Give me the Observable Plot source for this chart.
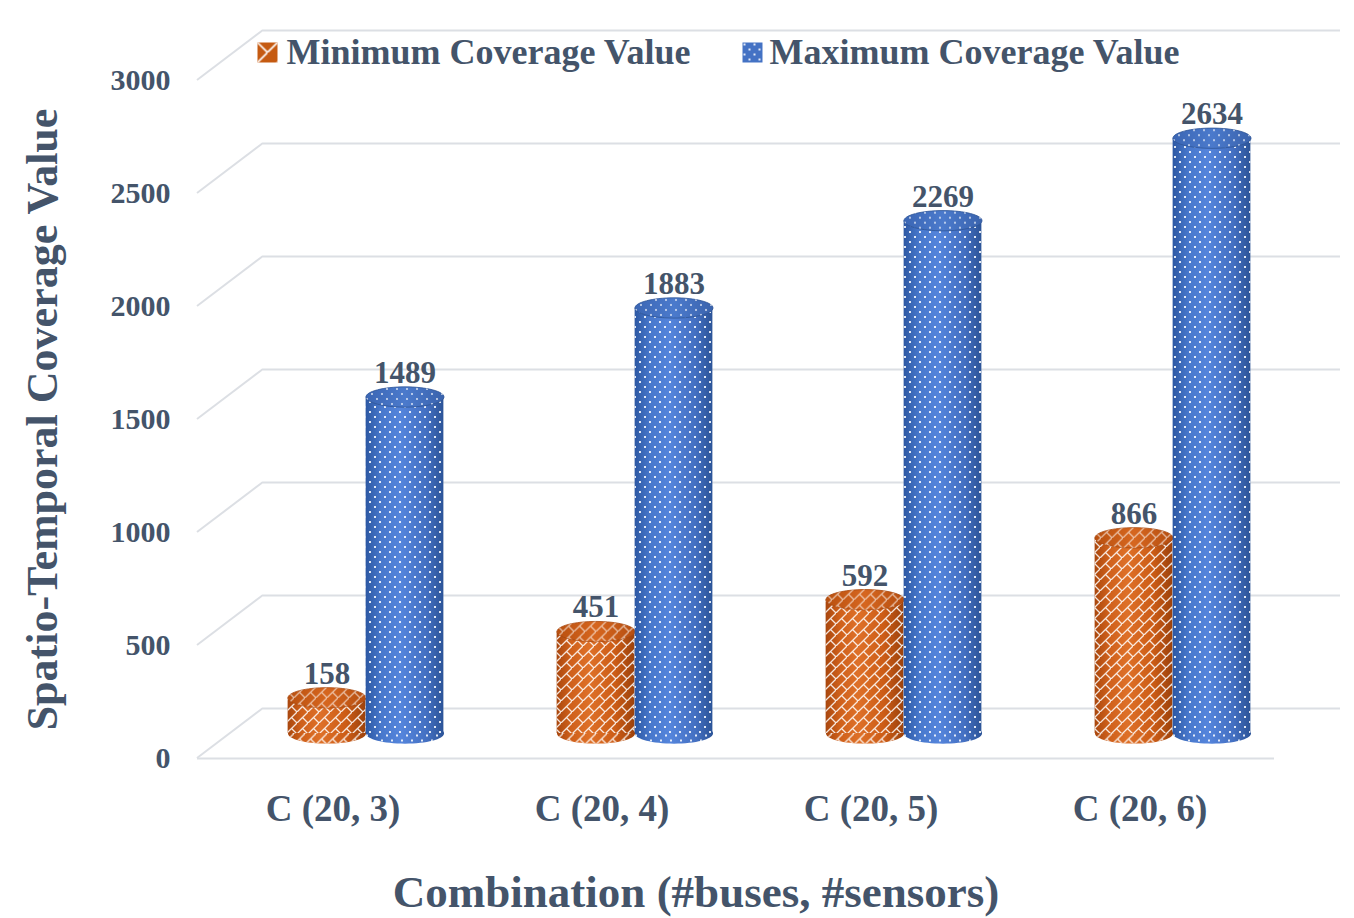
<!DOCTYPE html>
<html>
<head>
<meta charset="utf-8">
<script src="https://cdn.jsdelivr.net/npm/d3@7"></script>
<script src="https://cdn.jsdelivr.net/npm/@observablehq/plot@0.6"></script>
<style>
  html, body { margin: 0; padding: 0; background: #fff; }
  #chart svg { display: block; }
</style>
</head>
<body>
<div id="chart"></div>
<script>
// ---- data ----
const categories = ["C (20, 3)", "C (20, 4)", "C (20, 5)", "C (20, 6)"];
const minValues = [158, 451, 592, 866];
const maxValues = [1489, 1883, 2269, 2634];
const seriesNames = ["Minimum Coverage Value", "Maximum Coverage Value"];
const yTicks = [0, 500, 1000, 1500, 2000, 2500, 3000];
const xTitle = "Combination (#buses, #sensors)";
const yTitle = "Spatio-Temporal Coverage Value";

const data = categories.flatMap((c, i) => [
  {category: c, series: seriesNames[0], value: minValues[i]},
  {category: c, series: seriesNames[1], value: maxValues[i]}
]);

// ---- layout / style ----
const W = 1354, H = 918;
const ML = 197, MR = 80, MT = 80, MB = 160;
const DX = 66, DY = -50;           // depth offset front -> back wall
const MX = 33, MY = -25;           // depth offset front -> bars
const R = 39;                      // cylinder radius (px)
const RY = 0.26;                   // ellipse flattening
const bw = (W - ML - MR) / categories.length;
const TEXT = "#44546A";
const GRID = "#dcdfe4";

const ellipse = {
  draw(ctx, size) {
    const rx = Math.sqrt(size / Math.PI), ry = rx * RY, k = 0.5523;
    ctx.moveTo(-rx, 0);
    ctx.bezierCurveTo(-rx, -ry * k, -rx * k, -ry, 0, -ry);
    ctx.bezierCurveTo(rx * k, -ry, rx, -ry * k, rx, 0);
    ctx.bezierCurveTo(rx, ry * k, rx * k, ry, 0, ry);
    ctx.bezierCurveTo(-rx * k, ry, -rx, ry * k, -rx, 0);
    ctx.closePath();
  }
};
const square = {
  draw(ctx, size) {
    const r = Math.sqrt(size / Math.PI);
    ctx.moveTo(-r, -r); ctx.lineTo(r, -r); ctx.lineTo(r, r); ctx.lineTo(-r, r); ctx.closePath();
  }
};

const defsMark = () => {
  const defs = document.createElementNS("http://www.w3.org/2000/svg", "defs");
  defs.innerHTML = `
    <linearGradient id="bodyOrange" x1="0" x2="1" y1="0" y2="0">
      <stop offset="0" stop-color="#a9470e"/>
      <stop offset="0.18" stop-color="#cf601b"/>
      <stop offset="0.42" stop-color="#de7028"/>
      <stop offset="0.75" stop-color="#cc5c16"/>
      <stop offset="1" stop-color="#9c420c"/>
    </linearGradient>
    <linearGradient id="topOrange" x1="0" x2="1" y1="0" y2="0">
      <stop offset="0" stop-color="#b9500f"/>
      <stop offset="0.5" stop-color="#d6661f"/>
      <stop offset="1" stop-color="#b54e10"/>
    </linearGradient>
    <linearGradient id="bodyBlue" x1="0" x2="1" y1="0" y2="0">
      <stop offset="0" stop-color="#2d58a3"/>
      <stop offset="0.2" stop-color="#4878cc"/>
      <stop offset="0.45" stop-color="#5585dc"/>
      <stop offset="0.78" stop-color="#4470c2"/>
      <stop offset="1" stop-color="#2c5498"/>
    </linearGradient>
    <linearGradient id="topBlue" x1="0" x2="1" y1="0" y2="0">
      <stop offset="0" stop-color="#3b66b4"/>
      <stop offset="0.5" stop-color="#4b7acc"/>
      <stop offset="1" stop-color="#3a63ad"/>
    </linearGradient>
    <pattern id="patBlue" patternUnits="userSpaceOnUse" width="10" height="10">
      <rect x="1" y="1" width="2" height="2" fill="#ffffff" fill-opacity="0.85"/>
      <rect x="6" y="6" width="2" height="2" fill="#ffffff" fill-opacity="0.85"/>
    </pattern>
    <pattern id="patOrange" patternUnits="userSpaceOnUse" width="11" height="11">
      <path d="M-1,12 L12,-1 M5.5,5.5 L11,11" stroke="#ffffff" stroke-opacity="0.85" stroke-width="1.3" fill="none"/>
    </pattern>
    <pattern id="patOrangeLegend" patternUnits="userSpaceOnUse" width="20" height="20">
      <path d="M0,20 L20,0 M10,10 L20,20" stroke="#ffffff" stroke-width="1.6" fill="none"/>
    </pattern>`;
  return defs;
};

const leftWall = (index, scales, values, dims) => {
  const g = d3.create("svg:g").attr("stroke", GRID).attr("stroke-width", 2);
  for (const t of yTicks) {
    const y = scales.y(t);
    g.append("line")
      .attr("x1", dims.marginLeft).attr("y1", y)
      .attr("x2", dims.marginLeft + DX).attr("y2", y + DY);
  }
  return g.node();
};

function cylinder(si) {
  const rows = data.filter(d => d.series === seriesNames[si]);
  const key = si === 0 ? "Orange" : "Blue";
  const dxc = MX + (si === 0 ? -R : R);
  const inL = si === 0 ? bw / 2 - 2 * R : bw / 2;
  const inR = si === 0 ? bw / 2 : bw / 2 - 2 * R;
  return [
    Plot.dot(rows, {x: "category", y: () => 0, symbol: ellipse, r: R, fill: `url(#body${key})`, dx: dxc, dy: MY}),
    Plot.dot(rows, {x: "category", y: () => 0, symbol: ellipse, r: R, fill: `url(#pat${key})`, dx: dxc, dy: MY}),
    Plot.barY(rows, {x: "category", y: "value", insetLeft: inL, insetRight: inR, fill: `url(#body${key})`, dx: MX, dy: MY}),
    Plot.barY(rows, {x: "category", y: "value", insetLeft: inL, insetRight: inR, fill: `url(#pat${key})`, dx: MX, dy: MY}),
    Plot.dot(rows, {x: "category", y: "value", symbol: ellipse, r: R, fill: `url(#top${key})`, stroke: si === 0 ? "#a8470e" : "#2f5597", strokeWidth: 0.8, dx: dxc, dy: MY}),
    Plot.dot(rows, {x: "category", y: "value", symbol: ellipse, r: R, fill: `url(#pat${key})`, fillOpacity: 0.7, dx: dxc, dy: MY}),
    Plot.text(rows, {x: "category", y: "value", text: d => String(d.value), dx: dxc, dy: MY - R * RY - 4, lineAnchor: "bottom", fontSize: 31, fontWeight: "bold", fill: TEXT})
  ];
}

const chart = Plot.plot({
  width: W,
  height: H,
  marginLeft: ML,
  marginRight: MR,
  marginTop: MT,
  marginBottom: MB,
  style: {fontFamily: "'Liberation Serif', 'Times New Roman', serif", color: TEXT, background: "#fff", overflow: "visible"},
  x: {type: "band", domain: categories, padding: 0},
  y: {domain: [0, 3000]},
  marks: [
    defsMark,
    Plot.ruleY(yTicks, {stroke: GRID, strokeWidth: 2, dx: DX, dy: DY}),
    leftWall,
    Plot.ruleY([0], {stroke: GRID, strokeWidth: 2}),
    ...cylinder(0),
    ...cylinder(1),
    Plot.axisY(yTicks, {tickSize: 0, tickPadding: 27, fontSize: 30, fontWeight: "bold", label: null, tickFormat: d => String(d)}),
    Plot.axisX({tickSize: 0, tickPadding: 36, fontSize: 37, fontWeight: "bold", label: null}),
    Plot.text([yTitle], {text: d => d, frameAnchor: "left", textAnchor: "middle", lineAnchor: "middle", rotate: -90, dx: -155, fontSize: 44, fontWeight: "bold", fill: TEXT}),
    Plot.text([xTitle], {text: d => d, frameAnchor: "bottom", textAnchor: "middle", lineAnchor: "middle", dx: -40, dy: 134, fontSize: 45, fontWeight: "bold", fill: TEXT}),
    // legend
    Plot.dot([seriesNames[0]], {frameAnchor: "top-left", symbol: square, r: 10, fill: "#c55a11", dx: 267 - ML, dy: 52 - MT}),
    Plot.dot([seriesNames[0]], {frameAnchor: "top-left", symbol: square, r: 10, fill: "url(#patOrangeLegend)", dx: 267 - ML, dy: 52 - MT}),
    Plot.dot([seriesNames[1]], {frameAnchor: "top-left", symbol: square, r: 10, fill: "#4472c4", dx: 752 - ML, dy: 52 - MT}),
    Plot.dot([seriesNames[1]], {frameAnchor: "top-left", symbol: square, r: 10, fill: "url(#patBlue)", dx: 752 - ML, dy: 52 - MT}),
    Plot.text([seriesNames[0]], {text: d => d, frameAnchor: "top-left", textAnchor: "start", lineAnchor: "middle", dx: 286 - ML, dy: 52 - MT, fontSize: 36, fontWeight: "bold", fill: TEXT}),
    Plot.text([seriesNames[1]], {text: d => d, frameAnchor: "top-left", textAnchor: "start", lineAnchor: "middle", dx: 769 - ML, dy: 52 - MT, fontSize: 36, fontWeight: "bold", fill: TEXT})
  ]
});

document.getElementById("chart").appendChild(chart);
</script>
</body>
</html>
